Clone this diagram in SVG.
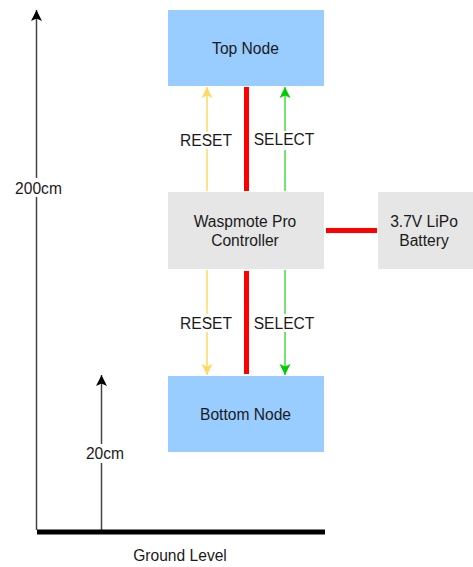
<svg xmlns="http://www.w3.org/2000/svg" width="473" height="567" viewBox="0 0 473 567">
<defs>
<marker id="ab" markerUnits="userSpaceOnUse" markerWidth="12" markerHeight="12" refX="11" refY="6" orient="auto"><path d="M0 0.5L11 6L0 11.500L2.500 6Z" fill="#000"/></marker>
<marker id="ay" markerUnits="userSpaceOnUse" markerWidth="12" markerHeight="12" refX="11" refY="6" orient="auto"><path d="M0 0.500L11 6L0 11.500L2.500 6Z" fill="#ffd966"/></marker>
<marker id="ag" markerUnits="userSpaceOnUse" markerWidth="12" markerHeight="12" refX="11" refY="6" orient="auto"><path d="M0 0.500L11 6L0 11.500L2.500 6Z" fill="#00cc00"/></marker>
</defs>
<style>
text{font-family:"Liberation Sans",Arial,sans-serif;font-size:15.600px;fill:#1a1a1a;text-anchor:middle}
.blue{fill:#99ccff}.grey{fill:#e6e6e6}
.k{stroke:#444;stroke-width:1.500;fill:none;marker-end:url(#ab)}
.y{stroke:#ffd966;stroke-width:1.500;fill:none;marker-end:url(#ay)}
.g{stroke:#44dd44;stroke-width:1.500;fill:none;marker-end:url(#ag)}
.r{stroke:#ff0000;stroke-width:5;fill:none}
.bg{fill:#fff}
</style>
<g id="connectors">
<path class="k" d="M36.500 530V10"/>
<path class="k" d="M101.500 530V375"/>
<path d="M37 532H325" stroke="#000" stroke-width="5" fill="none"/>
<path class="y" d="M207 191V87"/>
<path class="g" d="M285 191V87"/>
<path class="r" d="M246.500 87V191"/>
<path class="y" d="M207 270V375"/>
<path class="g" d="M285 270V375"/>
<path class="r" d="M246.500 271V374"/>
<path class="r" d="M326 230.500H377"/>
<rect class="bg" x="179" y="132" width="55" height="17"/>
<rect class="bg" x="252" y="131" width="65" height="19"/>
<rect class="bg" x="179" y="314" width="55" height="18"/>
<rect class="bg" x="252" y="314" width="65" height="18"/>
<rect class="bg" x="14" y="178" width="48" height="19"/>
<rect class="bg" x="85" y="444" width="40" height="19"/>
<text x="206" y="145.500">RESET</text>
<text x="284" y="145">SELECT</text>
<text x="206" y="328.500">RESET</text>
<text x="284" y="328.500">SELECT</text>
<text x="38.500" y="193.500">200cm</text>
<text x="105" y="458.500">20cm</text>
</g>
<g id="top-node"><rect class="blue" x="168" y="10" width="156" height="76"/><text x="245.500" y="53.500">Top Node</text></g>
<g id="controller"><rect class="grey" x="168" y="192" width="156" height="77"/><text x="245" y="226.500">Waspmote Pro</text><text x="245" y="245.500">Controller</text></g>
<g id="battery"><rect class="grey" x="378" y="192" width="95" height="77"/><text x="424" y="226.500">3.7V LiPo</text><text x="424" y="245.500">Battery</text></g>
<g id="bottom-node"><rect class="blue" x="168" y="376" width="156" height="76"/><text x="245.500" y="419.500">Bottom Node</text></g>
<g id="ground-label"><text x="180" y="560.500">Ground Level</text></g>
</svg>
